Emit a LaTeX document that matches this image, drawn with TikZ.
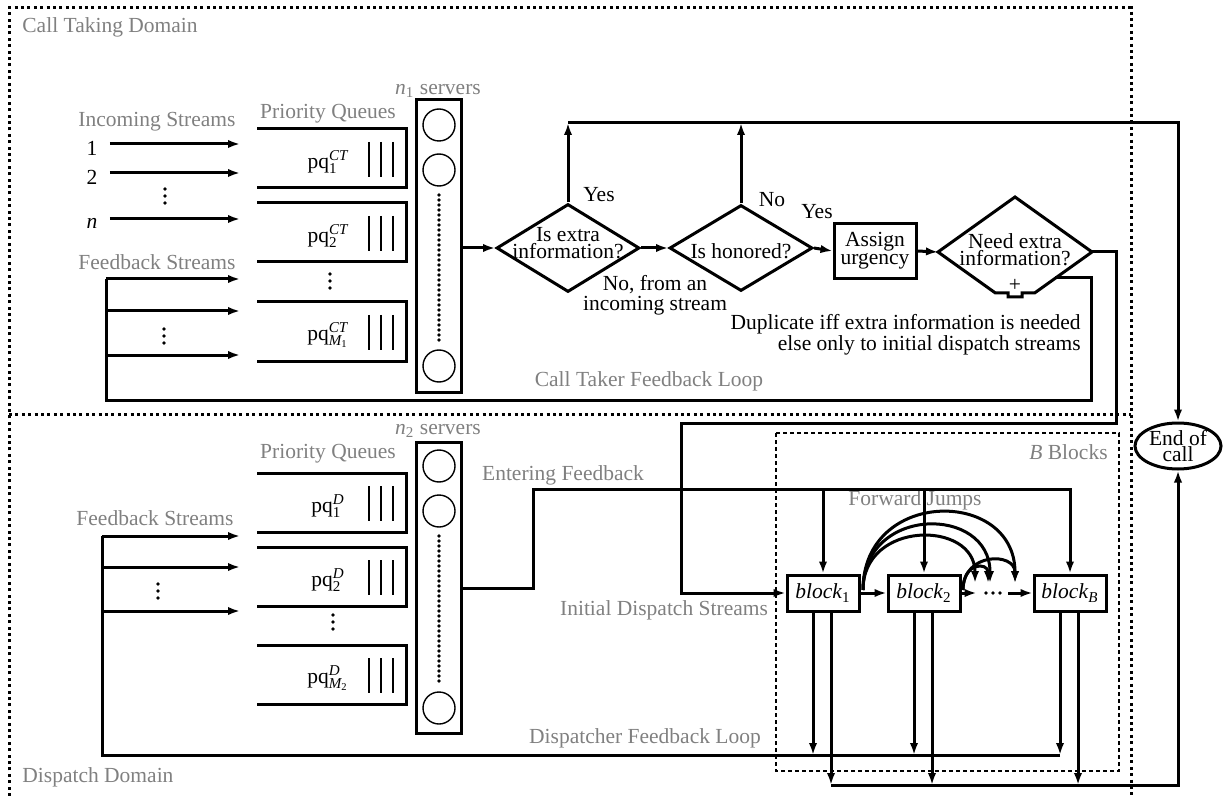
\documentclass[tikz,border=0pt]{standalone}
\usepackage{amsmath}
\usepackage{fontspec}
\setmainfont{Liberation Serif}
\usetikzlibrary{arrows.meta,shapes.geometric,positioning}
\newcommand{\pq}[2]{pq$^{\text{\itshape #1}}_{\text{#2}}$}
\newcommand{\blk}[1]{\textit{block}\textsubscript{#1}}
% open queue box, top edge at y=#1
\newcommand{\queue}[2]{%
  \draw[ln] (257,#1) -- (406,#1) -- (406,#1+59) -- (257,#1+59);
  \foreach \bx in {369,381,393} \draw[bar] (\bx,#1+13) -- (\bx,#1+48);
  \node[txt] at (328,#1+33) {#2};}
% server column: top, bottom, three circle centres
\newcommand{\servers}[5]{%
  \draw[ln] (416,#1) rectangle (461,#2);
  \foreach \cy in {#3,#4,#5} \draw[bar] (439,\cy) circle[radius=8pt];
  \draw[dotline] (439,#4+25) -- (439,#5-26);}
% three heavy vertical dots
\newcommand{\vdotsat}[2]{%
  \foreach \dy in {-7,0,7} \fill (#1,#2+\dy) circle[radius=0.9pt];}
\begin{document}
\begin{tikzpicture}[x=0.5pt,y=-0.5pt,>={Latex[length=6pt,width=4.2pt]},
  ln/.style={line width=1.5pt},
  flow/.style={ln,->},
  bar/.style={line width=0.7pt},
  dotline/.style={line width=1.8pt,line cap=round,dash pattern=on 0pt off 2.5pt},
  domainline/.style={line width=1.5pt,dash pattern=on 1.5pt off 1.7pt},
  bframe/.style={line width=0.6pt,dash pattern=on 2pt off 1.5pt},
  txt/.style={inner sep=0pt,align=center,font=\fontsize{10.75}{7.6}\selectfont},
  graytxt/.style={txt,text=black!50},
  decision/.style={draw,ln,diamond,inner sep=0pt,minimum width=71.5pt,minimum height=44pt},
  procbox/.style={draw,ln,txt,minimum width=41pt,minimum height=27.5pt},
  blockbox/.style={draw,ln,txt,minimum width=36pt,minimum height=18pt},
  endbox/.style={draw,ln,txt,ellipse,inner sep=0pt,minimum width=43pt,minimum height=23pt}]
  \useasboundingbox (0,0) rectangle (1224,796);
  % the two domains
  \draw[domainline] (9,796) -- (9,8) -- (1131,8) -- (1131,796);
  \draw[domainline] (9,414) -- (1131,414);
  \node[graytxt,anchor=west] (ctdom) at (22,27) {Call Taking Domain};
  \node[graytxt,anchor=west] (ddom) at (22,777) {Dispatch Domain};

  % call taking: arrivals, queues, servers
  \node[graytxt] (inlbl) at (157,122) {Incoming Streams};
  \node[graytxt] (pqlblct) at (328,114) {Priority Queues};
  \node[graytxt] (srvlblct) at (438,91) {\textit{n}\textsubscript{1} servers};
  \foreach \n/\y/\t in {1/144/1,2/173/2,3/219/{\textit{n}}} {
    \coordinate (ctq\n) at (240,\y);
    \node[txt] (in\n) at (92,\y+4) {\t};
    \draw[flow,shorten <=6pt] (in\n.east |- ctq\n) -- (ctq\n);
  }
  \vdotsat{165}{196}
  \node[graytxt] (fblblct) at (157,262) {Feedback Streams};
  \coordinate (ctfb) at (106,279);
  \foreach \y in {279,311,355} \draw[flow] (106,\y) -- (240,\y);
  \vdotsat{164}{336}
  \queue{129}{\pq{CT}{1}}
  \queue{203}{\pq{CT}{2}}
  \queue{302}{\pq{CT}{\itshape M\textsubscript{\upshape 1}}}
  \vdotsat{330}{281}
  \servers{100}{392}{125}{170}{366}

  % call taking decisions
  \coordinate (ctout) at (461,248);
  \node[decision] (d1) at (568,248) {};
  \node[txt] (d1txt) at (568,243) {Is extra\\information?};
  \node[decision,minimum height=43pt] (d2) at (741,248) {};
  \node[txt] (d2txt) at (741,251) {Is honored?};
  \node[procbox] (assign) at (875,251) {Assign\\urgency};
  \node[endbox] (eoc) at (1178,446) {End of\\call};
  \draw[flow] (ctout) -- (d1.west);
  \draw[flow] (d1.east) -- (d2.west);
  \draw[flow] (d2.east) -- (assign.west);
  \coordinate (exit) at (1178,123);
  \draw[flow] (d1.north) -- (d1.north |- exit);
  \draw[flow] (d2.north) -- (d2.north |- exit);
  \draw[flow] (d1.north |- exit) -- (exit) -- (eoc.north);
  \node[txt] (yes1) at (599,195) {Yes};
  \node[txt] (no2) at (772,200) {No};
  \node[txt] (yes2) at (817,212) {Yes};
  \node[txt] (nofrom) at (655,295) {No, from an\\incoming stream};

  % duplicating gateway
  \coordinate (d3w) at (938,252);
  \coordinate (d3e) at (1092,252);
  \coordinate (d3se) at (1055,278);
  \draw[ln] (d3w) -- (1015,197) -- (d3e) -- (1034.6,293) -- (1022,293) -- (1022,297)
    -- (1008,297) -- (1008,293) -- (995.4,293) -- cycle;
  \node[txt] (d3txt) at (1015,250) {Need extra\\information?};
  \node[txt] (plus) at (1015,285) {+};
  \draw[flow] (assign.east) -- (d3w);
  \node[txt,align=right,anchor=east] (duptxt) at (1081,335)
    {Duplicate iff extra information is needed\\else only to initial dispatch streams};
  \coordinate (ctloop) at (1091,400);
  \draw[ln] (d3se) -| (ctloop) -| (ctfb);
  \node[graytxt] (ctloopl) at (649,381) {Call Taker Feedback Loop};

  % dispatch: queues and servers
  \node[graytxt] (srvlbld) at (438,431) {\textit{n}\textsubscript{2} servers};
  \node[graytxt] (pqlbld) at (328,454) {Priority Queues};
  \queue{473}{\pq{D}{1}}
  \queue{547}{\pq{D}{2}}
  \queue{645}{\pq{D}{\itshape M\textsubscript{\upshape 2}}}
  \vdotsat{333}{622}
  \servers{442}{733}{466}{511}{708}
  \node[graytxt] (fblbld) at (155,518) {Feedback Streams};
  \coordinate (dfb) at (102,755);
  \foreach \y in {536,567,611} \draw[flow] (102,\y) -- (240,\y);
  \vdotsat{158}{591}

  % blocks
  \draw[bframe] (776,433) rectangle (1119,771);
  \node[graytxt,anchor=east] (blbl) at (1108,452) {\textit{B} Blocks};
  \node[blockbox] (b1) at (823,593) {\blk{1}};
  \node[blockbox] (b2) at (924,593) {\blk{2}};
  \node[blockbox] (bB) at (1070,593) {\blk{\textit{B}}};
  \node[inner sep=0pt,minimum width=15.5pt,minimum height=4pt] (bdots) at (992.5,593) {};
  \foreach \dx in {986,993,1000} \fill (\dx,593) circle[radius=0.9pt];
  \draw[flow] (b1.east) -- (b2.west);
  \draw[flow] (b2.east) -- (bdots.west);
  \draw[flow] (bdots.east) -- (bB.west);
  % forward jumps
  \coordinate (fj1) at (863,590);
  \coordinate (fj2) at (963,590);
  \draw[flow] (fj1) .. controls (863,520) and (975,520) .. (975,583);
  \draw[flow] (fj1) .. controls (863,505) and (990,505) .. (990,583);
  \draw[flow] (fj1) .. controls (863,488) and (1015,488) .. (1015,583);
  \draw[flow] (fj2) .. controls (963,562) and (988,562) .. (988,583);
  \draw[flow] (fj2) .. controls (963,552) and (1015,552) .. (1015,583);
  \node[graytxt] (fjlbl) at (915,500) {Forward Jumps};

  % entering feedback and initial dispatch
  \coordinate (dout) at (461,588);
  \coordinate (efturn) at (533,489);
  \draw[flow] (dout) -| (efturn) -| (bB.north);
  \draw[flow] (b1.north |- efturn) -- (b1.north);
  \draw[flow] (b2.north |- efturn) -- (b2.north);
  \node[graytxt] (eflbl) at (563,475) {Entering Feedback};
  \coordinate (idturn) at (681,423);
  \draw[flow] (d3e) -| (1116,423) -- (idturn) |- (b1.west);
  \node[graytxt] (idlbl) at (664,610) {Initial Dispatch Streams};

  % leaving the blocks
  \coordinate (eocb) at (1178,785);
  \foreach \b in {b1,b2,bB} {
    \coordinate (\b-fb) at ([xshift=-5pt]\b.south);
    \coordinate (\b-ex) at ([xshift=4pt]\b.south);
    \draw[flow] (\b-fb) -- (\b-fb |- dfb);
    \draw[flow] (\b-ex) -- (\b-ex |- eocb);
  }
  \draw[ln] (bB-fb |- dfb) -- (dfb) -- (102,536);
  \draw[flow] (b1-ex |- eocb) -- (eocb) -- (eoc.south);
  \node[graytxt] (dloopl) at (645,738) {Dispatcher Feedback Loop};
\end{tikzpicture}
\end{document}
